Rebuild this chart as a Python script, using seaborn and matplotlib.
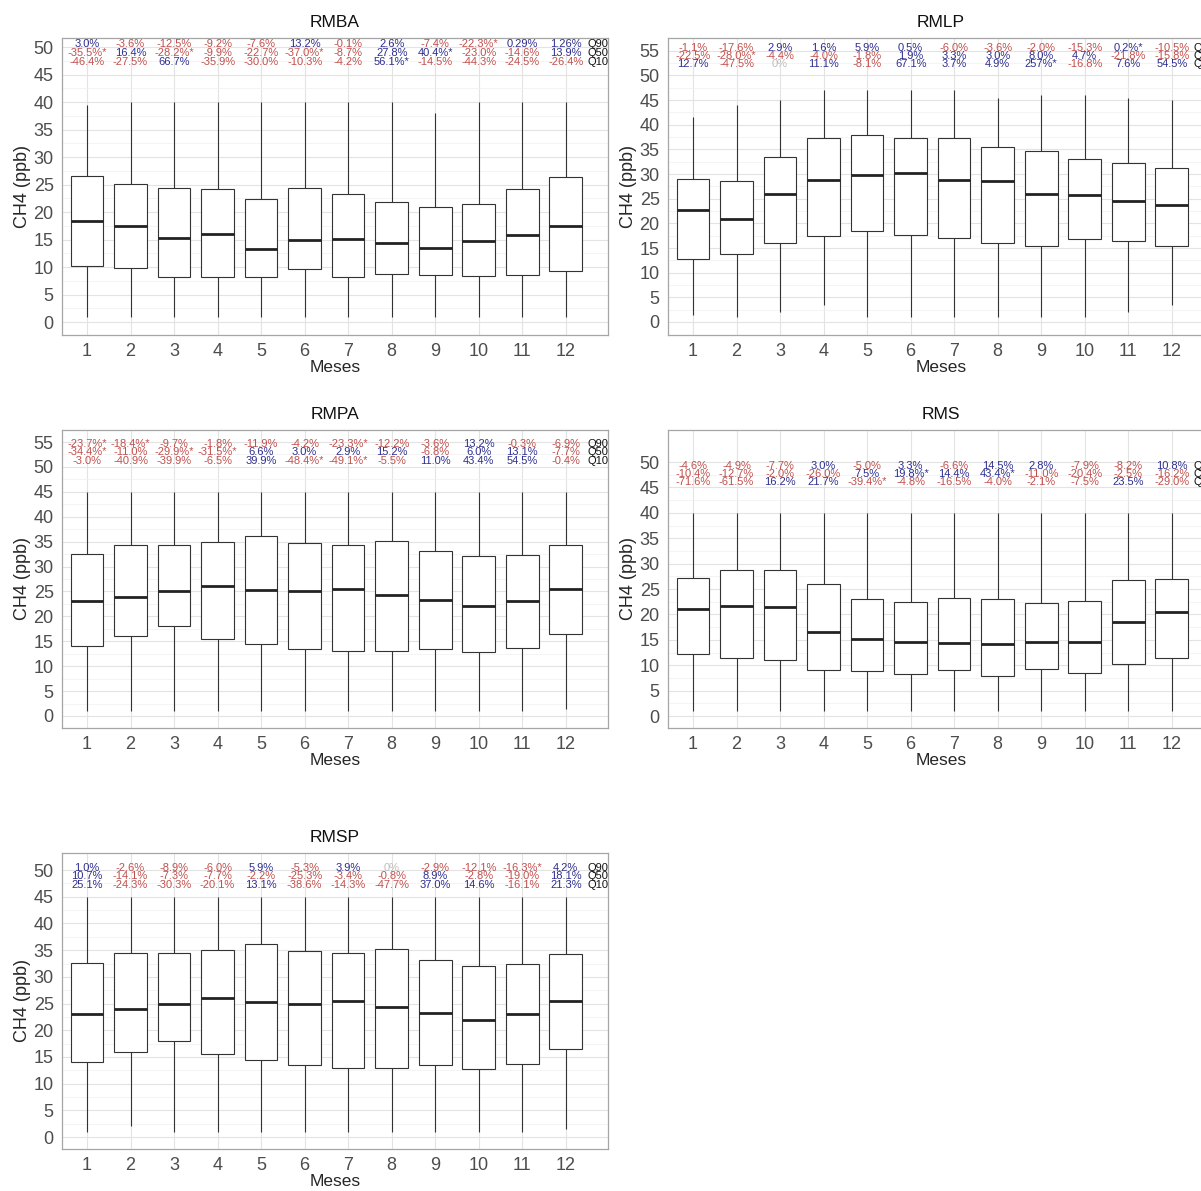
import pandas as pd
import matplotlib
matplotlib.use("Agg")
import matplotlib.pyplot as plt
import seaborn as sns

meses = list(range(1, 13))

# five-number summaries (min, q1, median, q3, max)
rmba_min = [1, 1, 1, 1, 1, 1, 1, 1, 1, 1, 1, 1]
rmba_q1 = [10.2, 9.8, 8.2, 8.2, 8.2, 9.6, 8.2, 8.8, 8.5, 8.3, 8.6, 9.2]
rmba_med = [18.4, 17.5, 15.2, 16.0, 13.3, 15.0, 15.1, 14.4, 13.5, 14.7, 15.9, 17.5]
rmba_q3 = [26.5, 25.1, 24.4, 24.2, 22.4, 24.3, 23.3, 21.8, 20.9, 21.4, 24.1, 26.4]
rmba_max = [39.5, 40, 40, 40, 40, 40, 40, 40, 38, 40, 40, 40]

rmlp_min = [1.5, 1, 2, 3.5, 1, 1, 1, 1, 1, 1, 2, 3.5]
rmlp_q1 = [12.8, 13.7, 16.0, 17.5, 18.5, 17.6, 17.0, 16.0, 15.5, 16.9, 16.5, 15.5]
rmlp_med = [22.8, 20.8, 25.9, 28.8, 29.8, 30.2, 28.8, 28.5, 26.0, 25.8, 24.6, 23.7]
rmlp_q3 = [29.1, 28.5, 33.4, 37.3, 37.9, 37.3, 37.3, 35.4, 34.7, 33.0, 32.3, 31.3]
rmlp_max = [41.5, 44, 45, 47, 47, 47, 47, 45.5, 46, 46, 45.5, 45]

rmpa_min = [1, 1, 1, 1, 1, 1, 1, 1, 1, 1, 1, 1.5]
rmpa_q1 = [14.0, 16.0, 18.0, 15.5, 14.5, 13.5, 13.0, 13.0, 13.4, 12.8, 13.6, 16.5]
rmpa_med = [23.0, 23.9, 25.0, 26.0, 25.3, 25.0, 25.5, 24.3, 23.2, 22.0, 23.0, 25.5]
rmpa_q3 = [32.6, 34.4, 34.4, 35.0, 36.1, 34.8, 34.4, 35.2, 33.2, 32.1, 32.4, 34.3]
rmpa_max = [45, 45, 45, 45, 45, 45, 45, 45, 45, 45, 45, 45]

rms_min = [1, 1, 1, 1, 1, 1, 1, 1, 1, 1, 1, 1]
rms_q1 = [12.2, 11.4, 11.1, 9.0, 8.8, 8.2, 9.0, 7.9, 9.2, 8.4, 10.3, 11.4]
rms_med = [21.0, 21.7, 21.4, 16.6, 15.2, 14.5, 14.4, 14.2, 14.6, 14.6, 18.5, 20.4]
rms_q3 = [27.2, 28.7, 28.8, 26.0, 23.1, 22.4, 23.3, 23.1, 22.2, 22.7, 26.7, 26.9]
rms_max = [40, 40, 40, 40, 40, 40, 40, 40, 40, 40, 40, 40]

rmsp_min = [1, 2, 1, 1, 1, 1, 1, 1, 1, 1, 1, 1.5]
rmsp_q1 = [14.0, 16.0, 18.0, 15.5, 14.5, 13.5, 13.0, 13.0, 13.4, 12.8, 13.6, 16.5]
rmsp_med = [23.0, 23.9, 25.0, 26.0, 25.3, 25.0, 25.5, 24.3, 23.2, 22.0, 23.0, 25.5]
rmsp_q3 = [32.6, 34.4, 34.4, 35.0, 36.1, 34.8, 34.4, 35.2, 33.2, 32.1, 32.4, 34.3]
rmsp_max = [45, 45, 45, 45, 45, 45, 45, 45, 45, 45, 45, 45]

# trend annotations per quantile
rmba_q90 = ["3.0%", "-3.6%", "-12.5%", "-9.2%", "-7.6%", "13.2%", "-0.1%", "2.6%", "-7.4%", "-22.3%*", "0.29%", "1.26%"]
rmba_q50 = ["-35.5%*", "16.4%", "-28.2%*", "-9.9%", "-22.7%", "-37.0%*", "-8.7%", "27.8%", "40.4%*", "-23.0%", "-14.6%", "13.9%"]
rmba_q10 = ["-46.4%", "-27.5%", "66.7%", "-35.9%", "-30.0%", "-10.3%", "-4.2%", "56.1%*", "-14.5%", "-44.3%", "-24.5%", "-26.4%"]

rmlp_q90 = ["-1.1%", "-17.6%", "2.9%", "1.6%", "5.9%", "0.5%", "-6.0%", "-3.6%", "-2.0%", "-15.3%", "0.2%*", "-10.5%"]
rmlp_q50 = ["-22.5%", "-28.0%*", "-4.4%", "-4.0%", "-1.8%", "1.9%", "3.3%", "3.0%", "8.0%", "4.7%", "-21.8%", "-15.8%"]
rmlp_q10 = ["12.7%", "-47.5%", "0%", "11.1%", "-8.1%", "67.1%", "3.7%", "4.9%", "257%*", "-16.8%", "7.6%", "54.5%"]

rmpa_q90 = ["-23.7%*", "-18.4%*", "-9.7%", "-1.8%", "-11.9%", "-4.2%", "-23.3%*", "-12.2%", "-3.6%", "13.2%", "-0.3%", "-6.9%"]
rmpa_q50 = ["-34.4%*", "-11.0%", "-29.9%*", "-31.5%*", "6.6%", "3.0%", "2.9%", "15.2%", "-6.8%", "6.0%", "13.1%", "-7.7%"]
rmpa_q10 = ["-3.0%", "-40.9%", "-39.9%", "-6.5%", "39.9%", "-48.4%*", "-49.1%*", "-5.5%", "11.0%", "43.4%", "54.5%", "-0.4%"]

rms_q90 = ["-4.6%", "-4.9%", "-7.7%", "3.0%", "-5.0%", "3.3%", "-6.6%", "14.5%", "2.8%", "-7.9%", "-8.2%", "10.8%"]
rms_q50 = ["-10.4%", "-12.7%", "-2.0%", "-26.0%", "7.5%", "19.8%*", "14.4%", "43.4%*", "-11.0%", "-20.4%", "-2.5%", "-16.2%"]
rms_q10 = ["-71.6%", "-61.5%", "16.2%", "21.7%", "-39.4%*", "-4.8%", "-16.5%", "-4.0%", "-2.1%", "-7.5%", "23.5%", "-29.0%"]

rmsp_q90 = ["1.0%", "-2.6%", "-8.9%", "-6.0%", "5.9%", "-5.3%", "3.9%", "0%", "-2.9%", "-12.1%", "-16.3%*", "4.2%"]
rmsp_q50 = ["10.7%", "-14.1%", "-7.3%", "-7.7%", "-2.2%", "-25.3%", "-3.4%", "-0.8%", "8.9%", "-2.8%", "-19.0%", "18.1%"]
rmsp_q10 = ["25.1%", "-24.3%", "-30.3%", "-20.1%", "13.1%", "-38.6%", "-14.3%", "-47.7%", "37.0%", "14.6%", "-16.1%", "21.3%"]

quant_labels = ["Q90", "Q50", "Q10"]

W, H = 1201, 1191
fig = plt.figure(figsize=(W / 100, H / 100), dpi=100)
sns.set_style("whitegrid")
plt.rcParams["font.family"] = ["Liberation Sans", "DejaVu Sans"]

RED = "#c0504d"
BLUE = "#2e2e8f"
GREY = "#bdbdbd"


def px_rect(x0, top, bottom, width=546):
    return [x0 / W, 1 - bottom / H, width / W, (bottom - top) / H]


panels = [
    # name, stats, annotations, rect, ylim, top tick, annotation rows y
    ("RMBA", (rmba_min, rmba_q1, rmba_med, rmba_q3, rmba_max), (rmba_q90, rmba_q50, rmba_q10),
     px_rect(62, 38, 335), (-2.36, 51.64), 50, (50.5, 49.0, 47.3)),
    ("RMLP", (rmlp_min, rmlp_q1, rmlp_med, rmlp_q3, rmlp_max), (rmlp_q90, rmlp_q50, rmlp_q10),
     px_rect(668, 38, 335), (-2.64, 57.6), 55, (55.5, 53.9, 52.3)),
    ("RMPA", (rmpa_min, rmpa_q1, rmpa_med, rmpa_q3, rmpa_max), (rmpa_q90, rmpa_q50, rmpa_q10),
     px_rect(62, 430, 728), (-2.41, 57.41), 55, (54.6, 53.0, 51.2)),
    ("RMS", (rms_min, rms_q1, rms_med, rms_q3, rms_max), (rms_q90, rms_q50, rms_q10),
     px_rect(668, 430, 728), (-2.36, 56.3), 50, (49.2, 47.6, 46.1)),
    ("RMSP", (rmsp_min, rmsp_q1, rmsp_med, rmsp_q3, rmsp_max), (rmsp_q90, rmsp_q50, rmsp_q10),
     px_rect(62, 853, 1149), (-2.24, 53.2), 50, (50.4, 48.8, 47.2)),
]


def label_color(s):
    if s == "0%":
        return GREY
    return RED if s.startswith("-") else BLUE


for name, stats, annots, rect, ylim, ymax, rows_y in panels:
    ax = fig.add_axes(rect)
    rows = []
    for i, m in enumerate(meses):
        for st in stats:
            rows.append((m, st[i]))
    df = pd.DataFrame(rows, columns=["mes", "ch4"])

    sns.boxplot(data=df, x="mes", y="ch4", ax=ax, color="white", linecolor="#333333",
                linewidth=0.8, width=0.75, whis=(0, 100), showcaps=False, fliersize=0,
                medianprops=dict(linewidth=2.0, color="#222222"))

    for row_vals, yy, ql in zip(annots, rows_y, quant_labels):
        for i, s in enumerate(row_vals):
            ax.text(i, yy, s, ha="center", va="center", fontsize=8, color=label_color(s))
        ax.text(11.5, yy, ql, ha="left", va="center", fontsize=8, color="#111111")

    ax.set_xlim(-0.575, 11.97)
    ax.set_ylim(*ylim)
    ax.set_yticks(range(0, ymax + 1, 5))
    ax.set_yticks([v + 2.5 for v in range(0, ymax, 5)], minor=True)
    ax.set_axisbelow(True)
    ax.grid(True, which="major", color="#e3e3e3", linewidth=0.8)
    ax.grid(True, which="minor", axis="y", color="#f0f0f0", linewidth=0.5)
    ax.tick_params(axis="both", which="major", length=4, width=0.8, color="#333333",
                   labelcolor="#4d4d4d", labelsize=13, pad=2)
    ax.tick_params(axis="y", which="minor", length=0)
    for sp in ax.spines.values():
        sp.set_color("#a6a6a6")
        sp.set_linewidth(0.9)
    ax.set_title(name, fontsize=12.5, pad=8, color="#111111")
    ax.set_xlabel("Meses", fontsize=12.5, labelpad=0)
    ax.set_ylabel("CH4 (ppb)", fontsize=13, labelpad=2)

fig.savefig("out.png", dpi=100, facecolor="white")
